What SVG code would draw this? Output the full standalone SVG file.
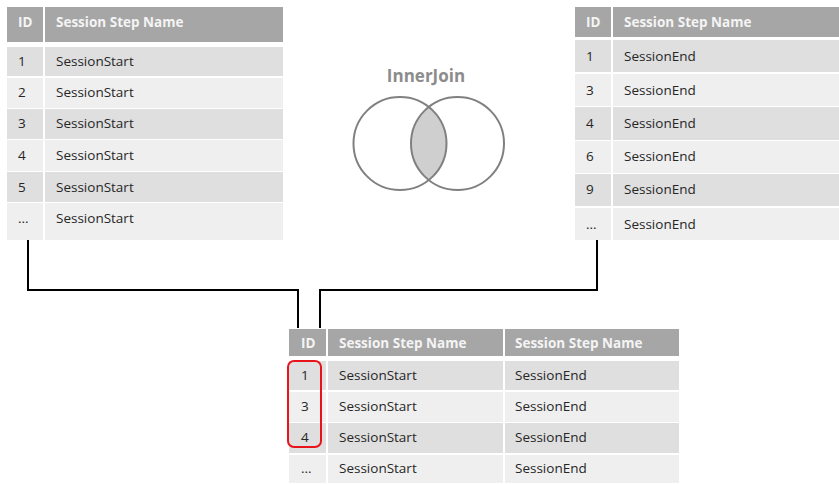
<svg xmlns="http://www.w3.org/2000/svg" width="839" height="484" viewBox="0 0 839 484">
<style>
.hd{fill:#a6a6a6}
.dk{fill:#dfdfdf}
.lt{fill:#efefef}
.ht{font-family:"Open Sans","Liberation Sans",sans-serif;font-size:13.5px;font-weight:bold;fill:#f4f4f4}
.ct{font-family:"Open Sans","Liberation Sans",sans-serif;font-size:13.5px;fill:#262626}
.conn{fill:none;stroke:#000;stroke-width:2}
.venn{fill:none;stroke:#808080;stroke-width:2}
</style>
<rect width="839" height="484" fill="#fff"/>
<g id="left-table">
<rect class="hd" x="7" y="7" width="36" height="35"/><rect class="hd" x="45" y="7" width="238" height="35"/>
<text class="ht" x="18" y="27">ID</text><text class="ht" x="56" y="27">Session Step Name</text>
<rect class="dk" x="7" y="47" width="36" height="29"/><rect class="dk" x="45" y="47" width="238" height="29"/>
<rect class="lt" x="7" y="78" width="36" height="30"/><rect class="lt" x="45" y="78" width="238" height="30"/>
<rect class="dk" x="7" y="109" width="36" height="30"/><rect class="dk" x="45" y="109" width="238" height="30"/>
<rect class="lt" x="7" y="140" width="36" height="31"/><rect class="lt" x="45" y="140" width="238" height="31"/>
<rect class="dk" x="7" y="172" width="36" height="30"/><rect class="dk" x="45" y="172" width="238" height="30"/>
<rect class="lt" x="7" y="203" width="36" height="37"/><rect class="lt" x="45" y="203" width="238" height="37"/>
<text class="ct" x="18" y="66">1</text><text class="ct" x="56" y="66">SessionStart</text>
<text class="ct" x="18" y="97">2</text><text class="ct" x="56" y="97">SessionStart</text>
<text class="ct" x="18" y="128">3</text><text class="ct" x="56" y="128">SessionStart</text>
<text class="ct" x="18" y="160">4</text><text class="ct" x="56" y="160">SessionStart</text>
<text class="ct" x="18" y="192">5</text><text class="ct" x="56" y="192">SessionStart</text>
<text class="ct" x="18" y="223">...</text><text class="ct" x="56" y="223">SessionStart</text>
</g>
<g id="right-table">
<rect class="hd" x="575" y="7" width="36" height="30"/><rect class="hd" x="613" y="7" width="226" height="30"/>
<text class="ht" x="586" y="27">ID</text><text class="ht" x="624" y="27">Session Step Name</text>
<rect class="dk" x="575" y="40" width="36" height="32"/><rect class="dk" x="613" y="40" width="226" height="32"/>
<rect class="lt" x="575" y="74" width="36" height="32"/><rect class="lt" x="613" y="74" width="226" height="32"/>
<rect class="dk" x="575" y="107" width="36" height="33"/><rect class="dk" x="613" y="107" width="226" height="33"/>
<rect class="lt" x="575" y="141" width="36" height="32"/><rect class="lt" x="613" y="141" width="226" height="32"/>
<rect class="dk" x="575" y="174" width="36" height="32"/><rect class="dk" x="613" y="174" width="226" height="32"/>
<rect class="lt" x="575" y="208" width="36" height="32"/><rect class="lt" x="613" y="208" width="226" height="32"/>
<text class="ct" x="586" y="61">1</text><text class="ct" x="624" y="61">SessionEnd</text>
<text class="ct" x="586" y="95">3</text><text class="ct" x="624" y="95">SessionEnd</text>
<text class="ct" x="586" y="128">4</text><text class="ct" x="624" y="128">SessionEnd</text>
<text class="ct" x="586" y="161">6</text><text class="ct" x="624" y="161">SessionEnd</text>
<text class="ct" x="586" y="194">9</text><text class="ct" x="624" y="194">SessionEnd</text>
<text class="ct" x="586" y="229">...</text><text class="ct" x="624" y="229">SessionEnd</text>
</g>
<g id="venn">
<text x="426" y="82" text-anchor="middle" font-family="'Open Sans','Liberation Sans',sans-serif" font-size="17" font-weight="bold" fill="#8c8c8c">InnerJoin</text>
<path d="M428.75 106.95 A46.5 46.5 0 0 1 428.75 180.05 A46.5 46.5 0 0 1 428.75 106.95 Z" fill="#cfcfcf"/>
<circle class="venn" cx="400" cy="143.5" r="46.5"/>
<circle class="venn" cx="457.5" cy="143.5" r="46.5"/>
</g>
<g id="connectors">
<path class="conn" d="M28 240 V290 H298 V328"/>
<path class="conn" d="M597 240 V290 H320 V328"/>
</g>
<g id="result-table">
<rect class="hd" x="289" y="329" width="37" height="27"/><rect class="hd" x="328" y="329" width="175" height="27"/><rect class="hd" x="505" y="329" width="174" height="27"/>
<text class="ht" x="301" y="348">ID</text><text class="ht" x="339" y="348">Session Step Name</text><text class="ht" x="515" y="348">Session Step Name</text>
<rect class="dk" x="289" y="361" width="37" height="29"/><rect class="dk" x="328" y="361" width="175" height="29"/><rect class="dk" x="505" y="361" width="174" height="29"/>
<rect class="lt" x="289" y="392" width="37" height="30"/><rect class="lt" x="328" y="392" width="175" height="30"/><rect class="lt" x="505" y="392" width="174" height="30"/>
<rect class="dk" x="289" y="423" width="37" height="30"/><rect class="dk" x="328" y="423" width="175" height="30"/><rect class="dk" x="505" y="423" width="174" height="30"/>
<rect class="lt" x="289" y="455" width="37" height="28"/><rect class="lt" x="328" y="455" width="175" height="28"/><rect class="lt" x="505" y="455" width="174" height="28"/>
<text class="ct" x="301" y="380">1</text><text class="ct" x="339" y="380">SessionStart</text><text class="ct" x="515" y="380">SessionEnd</text>
<text class="ct" x="301" y="411">3</text><text class="ct" x="339" y="411">SessionStart</text><text class="ct" x="515" y="411">SessionEnd</text>
<text class="ct" x="301" y="442">4</text><text class="ct" x="339" y="442">SessionStart</text><text class="ct" x="515" y="442">SessionEnd</text>
<text class="ct" x="301" y="473">...</text><text class="ct" x="339" y="473">SessionStart</text><text class="ct" x="515" y="473">SessionEnd</text>
<rect x="288" y="361" width="33" height="86" rx="6" fill="none" stroke="#e8141c" stroke-width="2"/>
</g>
</svg>
